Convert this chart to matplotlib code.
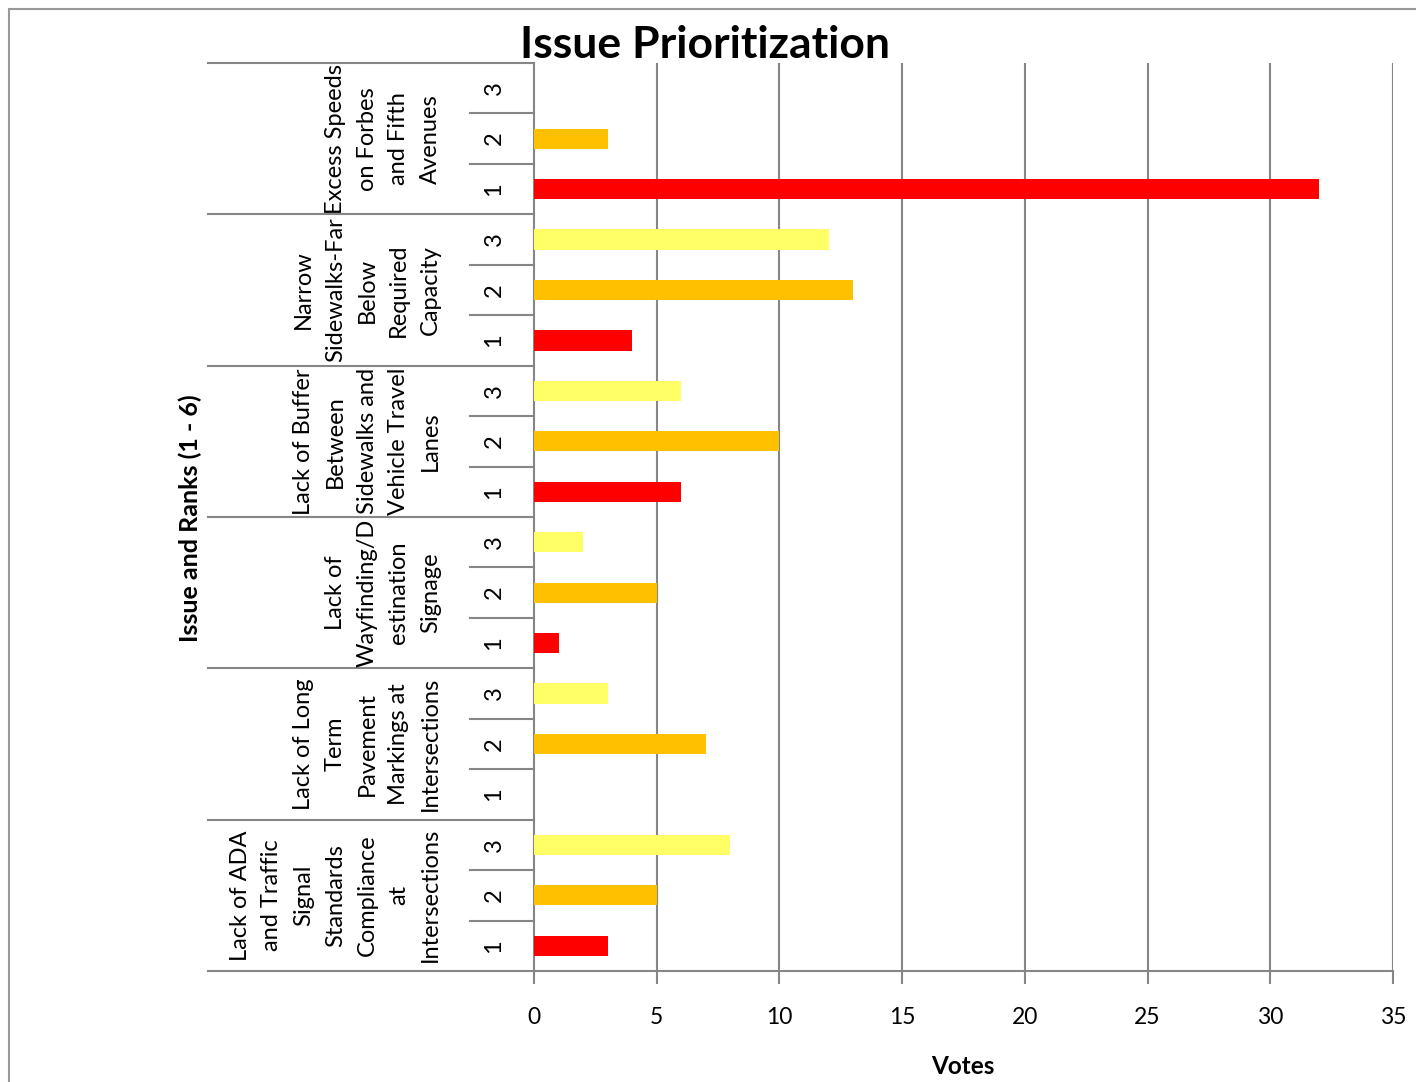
import numpy as np
import matplotlib
matplotlib.use("Agg")
import matplotlib.pyplot as plt
from matplotlib.patches import Rectangle
import matplotlib.transforms as mtransforms

plt.rcParams['font.family'] = ['Lato', 'DejaVu Sans']

# issues from bottom to top of the chart
issues = [
    "Lack of ADA\nand Traffic\nSignal\nStandards\nCompliance\nat\nIntersections",
    "Lack of Long\nTerm\nPavement\nMarkings at\nIntersections",
    "Lack of\nWayfinding/D\nestination\nSignage",
    "Lack of Buffer\nBetween\nSidewalks and\nVehicle Travel\nLanes",
    "Narrow\nSidewalks-Far\nBelow\nRequired\nCapacity",
    "Excess Speeds\non Forbes\nand Fifth\nAvenues",
]
ranks = ["1", "2", "3"]
# votes per issue for rank 1, 2, 3 (same order as issues)
rank1_votes = [3, 0, 1, 6, 4, 32]
rank2_votes = [5, 7, 5, 10, 13, 3]
rank3_votes = [8, 3, 2, 6, 12, 0]
x_ticks = [0, 5, 10, 15, 20, 25, 30, 35]

rank_colors = ['#FF0000', '#FFC000', '#FFFF66']

W, H = 1416, 1082
fig = plt.figure(figsize=(W / 100, H / 100), dpi=100)
ax = fig.add_axes([534 / W, 1 - 971 / H, (1393 - 534) / W, (971 - 63) / H])

votes = np.array([rank1_votes, rank2_votes, rank3_votes]).T  # issues x ranks
n_issue = len(issues)
pos = np.arange(n_issue * 3)
vals = votes.flatten()
cols = [rank_colors[i % 3] for i in range(len(vals))]
ax.barh(pos, vals, height=0.4, color=cols, zorder=3)

ax.set_xlim(0, 35)
ax.set_ylim(-0.5, n_issue * 3 - 0.5)
ax.set_xticks(x_ticks)
ax.set_xticklabels([str(t) for t in x_ticks], fontsize=16.5)
ax.tick_params(axis='x', length=9, width=1.5, color='#868686', pad=17)
ax.set_yticks([])
for t in x_ticks[1:]:
    ax.axvline(t, color='#868686', lw=1.5, zorder=1)
for s in ['top', 'right']:
    ax.spines[s].set_visible(False)
ax.spines['left'].set_color('#868686')
ax.spines['left'].set_linewidth(1.5)
ax.spines['bottom'].set_color('#868686')
ax.spines['bottom'].set_linewidth(1.5)

# multi-level category axis
trans = mtransforms.blended_transform_factory(ax.transAxes, ax.transData)
x_outer = (208 - 534) / (1393 - 534)
x_inner = (470 - 534) / (1393 - 534)
for g in range(n_issue + 1):
    y = g * 3 - 0.5
    ax.plot([x_outer, 0], [y, y], transform=trans, color='#868686', lw=1.5, clip_on=False)
for g in range(n_issue):
    for k in (1, 2):
        y = g * 3 + k - 0.5
        ax.plot([x_inner, 0], [y, y], transform=trans, color='#868686', lw=1.5, clip_on=False)
    for k in range(3):
        ax.text((494 - 534) / 859, g * 3 + k, ranks[k], transform=trans, rotation=90,
                ha='center', va='center', fontsize=17)
    ax.text((441 - 534) / 859, g * 3 + 1, issues[g], transform=trans, rotation=90,
            ha='right', va='center', multialignment='center', fontsize=17, linespacing=1.63)

fig.text(705 / W, 1 - 45 / H, "Issue Prioritization", ha='center', va='center',
         fontsize=32, fontweight='bold')
fig.text(190 / W, 1 - 518 / H, "Issue and Ranks (1 - 6)", ha='center', va='center',
         rotation=90, fontsize=18, fontweight='bold')
fig.text(963 / W, 1 - 1066 / H, "Votes", ha='center', va='center',
         fontsize=17.5, fontweight='bold')

# chart area border
fig.add_artist(Rectangle((9 / W, -0.1), 1.2, 1.1 - 9 / H, transform=fig.transFigure,
                         fill=False, edgecolor='#999999', lw=1.5))

fig.savefig("out.png", dpi=100)
